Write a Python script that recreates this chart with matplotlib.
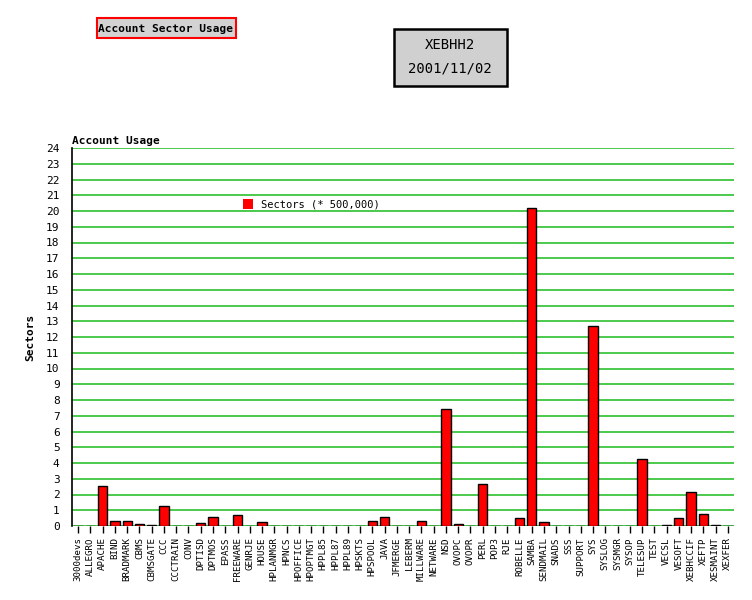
import matplotlib
matplotlib.use("Agg")
import matplotlib.pyplot as plt
from matplotlib.patches import Rectangle

categories = ["3000devs", "ALLEGRO", "APACHE", "BIND", "BRADMARK", "CBMS", "CBMSGATE", "CCC",
              "CCCTRAIN", "CONV", "DPTISD", "DPTMOS", "EPASS", "FREEWARE", "GENRJE", "HOUSE",
              "HPLANMGR", "HPNCS", "HPOFFICE", "HPOPTMGT", "HPPL85", "HPPL87", "HPPL89", "HPSKTS",
              "HPSPOOL", "JAVA", "JFMERGE", "LEBERM", "MILLWARE", "NETWARE", "NSD", "OVOPC",
              "OVOPR", "PERL", "POP3", "RJE", "ROBELLE", "SAMBA", "SENDMAIL", "SNADS", "SSS",
              "SUPPORT", "SYS", "SYSLOG", "SYSMGR", "SYSOP", "TELESUP", "TEST", "VECSL", "VESOFT",
              "XEBHCCIF", "XEFTP", "XESMAINT", "XEXFER"]
sectors = [0, 0, 2.53, 0.32, 0.32, 0.13, 0.08, 1.28,
           0, 0, 0.17, 0.55, 0, 0.72, 0, 0.26,
           0, 0, 0, 0, 0, 0, 0, 0,
           0.32, 0.55, 0, 0, 0.32, 0, 7.43, 0.13,
           0, 2.68, 0, 0, 0.49, 20.19, 0.26, 0, 0,
           0, 12.7, 0, 0, 0, 4.28, 0, 0.08, 0.49,
           2.19, 0.79, 0.08, 0]
yticks = list(range(0, 25))

mono = "DejaVu Sans Mono"
fig = plt.figure(figsize=(7.52, 6.0), dpi=100)
ax = fig.add_axes([72/752, 1-526/600, 662/752, 378/600])

x = list(range(len(categories)))
ax.bar(x, sectors, width=0.76, color="#ff0000", edgecolor="black", linewidth=1.0, zorder=3)

ax.set_xlim(-0.5, len(categories) - 0.5)
ax.set_ylim(0, 24)
ax.set_yticks(yticks)
ax.set_yticklabels([str(t) for t in yticks], fontfamily=mono, fontsize=8)
ax.set_xticks(x)
ax.set_xticklabels(categories, rotation=90, fontfamily=mono, fontsize=6.6)
ax.tick_params(axis="y", length=0, pad=9)
ax.tick_params(axis="x", length=5, width=1, color="black", pad=3)
for yv in yticks:
    ax.axhline(yv, color="#2ec02e", linewidth=1.2, zorder=1)
for s in ["top", "right", "bottom"]:
    ax.spines[s].set_visible(False)
ax.spines["left"].set_color("black")
ax.spines["left"].set_linewidth(1.2)

ax.set_ylabel("Sectors", fontfamily=mono, fontweight="bold", fontsize=8, labelpad=8)
fig.text(72/752, 1-141/600, "Account Usage", fontfamily=mono, fontweight="bold", fontsize=8,
         ha="left", va="center")

# legend
fig.patches.append(Rectangle((243/752, 1-209/600), 10/752, 10/600, transform=fig.transFigure,
                             facecolor="#ff0000", edgecolor="none"))
fig.text(261/752, 1-204/600, "Sectors (* 500,000)", fontfamily=mono, fontsize=7.5,
         ha="left", va="center")

# title box
fig.patches.append(Rectangle((97/752, 1-38/600), 139/752, 20/600, transform=fig.transFigure,
                             facecolor="#d3d3d3", edgecolor="#ff0000", linewidth=1.5))
fig.text(166/752, 1-28.5/600, "Account Sector Usage", fontfamily=mono, fontweight="bold",
         fontsize=8, ha="center", va="center")

# system box
fig.patches.append(Rectangle((394/752, 1-86/600), 113/752, 57/600, transform=fig.transFigure,
                             facecolor="#d0d0d0", edgecolor="black", linewidth=1.8))
fig.text(450/752, 1-45/600, "XEBHH2", fontfamily=mono, fontsize=10, ha="center", va="center")
fig.text(450/752, 1-69/600, "2001/11/02", fontfamily=mono, fontsize=10, ha="center", va="center")

fig.savefig("out.png", dpi=100)
